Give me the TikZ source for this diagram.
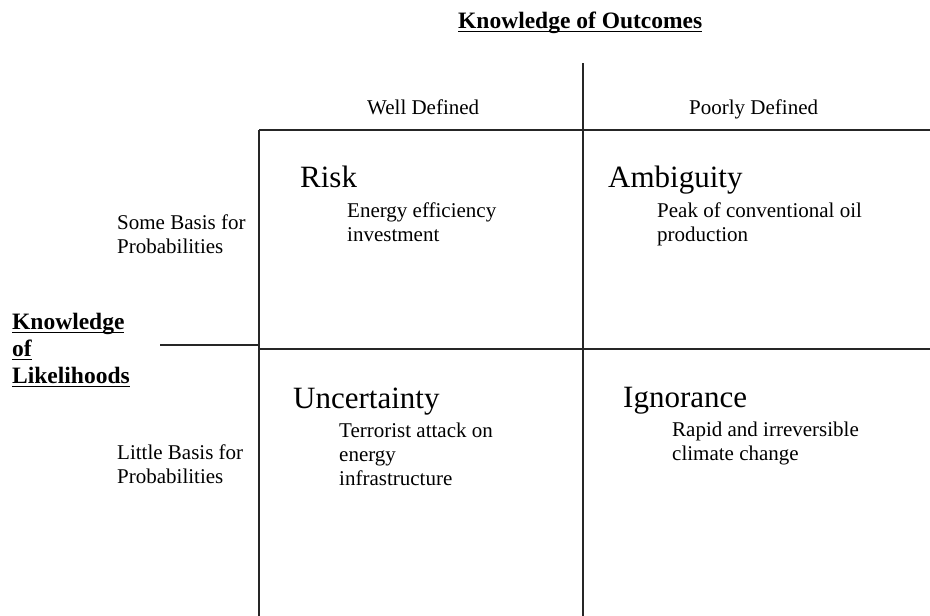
\documentclass[tikz,border=0pt]{standalone}
\usepackage{fontspec}
\setmainfont{Liberation Serif}
\newcommand\blocktext[1]{\begin{tabular}[t]{@{}l@{}}#1\end{tabular}}
\newcommand\ulined[1]{\setbox0\hbox{#1}\rlap{\rule[-4.2pt]{\wd0}{1.6pt}}\box0}
\begin{document}
\begin{tikzpicture}[x=1pt,y=-1pt,
  grid/.style={line width=1.2pt,draw=black!85},
  small/.style={font=\fontsize{21}{24}\selectfont,anchor=base west,inner sep=0pt},
  big/.style={font=\fontsize{31}{36}\selectfont,anchor=base west,inner sep=0pt},
  heading/.style={font=\fontsize{23.5}{27}\selectfont\bfseries,anchor=base west,inner sep=0pt}]
\useasboundingbox (0,0) rectangle (930,616);

% axis headings
\node[heading] (outcomes) at (458,28) {\ulined{Knowledge of Outcomes}};
\node[heading,font=\fontsize{23.5}{27}\selectfont\bfseries] (likelihoods) at (12,329)
  {\blocktext{\ulined{Knowledge}\\ \ulined{of}\\ \ulined{Likelihoods}}};

% column and row labels
\node[small] (well) at (367,114) {Well Defined};
\node[small] (poor) at (689,114) {Poorly Defined};
\node[small] (some) at (117,229) {\blocktext{Some Basis for\\ Probabilities}};
\node[small] (little) at (117,459) {\blocktext{Little Basis for\\ Probabilities}};

% grid
\coordinate (tl) at (259,130);
\coordinate (tr) at (930,130);
\coordinate (bl) at (259,616);
\coordinate (mtop) at (583,63);
\coordinate (mbot) at (583,616);
\coordinate (ml) at (259,349);
\coordinate (mr) at (930,349);
\coordinate (al) at (160,345);
\coordinate (ar) at (259,345);
\draw[grid] (tl) -- (tr);
\draw[grid] (tl) -- (bl);
\draw[grid] (mtop) -- (mbot);
\draw[grid] (ml) -- (mr);
\draw[grid] (al) -- (ar);

% quadrants
\node[big] (risk) at (300,187) {Risk};
\node[small] (riskex) at (347,217) {\blocktext{Energy efficiency\\ investment}};
\node[big] (amb) at (608,187) {Ambiguity};
\node[small] (ambex) at (657,217) {\blocktext{Peak of conventional oil\\ production}};
\node[big] (unc) at (293,408) {Uncertainty};
\node[small] (uncex) at (339,437) {\blocktext{Terrorist attack on\\ energy\\ infrastructure}};
\node[big] (ign) at (623,407) {Ignorance};
\node[small] (ignex) at (672,436) {\blocktext{Rapid and irreversible\\ climate change}};
\end{tikzpicture}
\end{document}
